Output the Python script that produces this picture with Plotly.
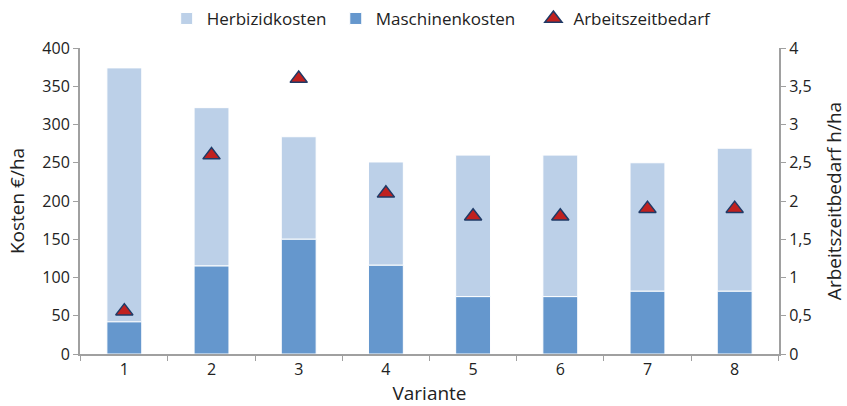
import plotly.graph_objects as go

varianten = ["1", "2", "3", "4", "5", "6", "7", "8"]
maschinenkosten = [42, 115, 150, 116, 75, 75, 82, 82]
herbizidkosten = [332, 207, 134, 135, 185, 185, 168, 187]
arbeitszeit = [0.56, 2.6, 3.6, 2.1, 1.8, 1.8, 1.9, 1.9]

FONT = "Open Sans"
AX = "#a0a0a0"

fig = go.Figure()
fig.add_trace(go.Bar(x=varianten, y=herbizidkosten, name="Herbizidkosten\u00a0",
                     marker=dict(color="#bcd0e8", line=dict(color="white", width=1)),
                     base=maschinenkosten, width=0.4, offsetgroup="a", legendrank=1))
fig.add_trace(go.Bar(x=varianten, y=maschinenkosten, name="Maschinenkosten\u00a0\u00a0\u00a0",
                     marker=dict(color="#6597cd", line=dict(color="white", width=1)),
                     width=0.4, offsetgroup="a", legendrank=2))
fig.add_trace(go.Scatter(x=varianten, y=arbeitszeit, name="Arbeitszeitbedarf", yaxis="y2",
                         mode="markers",
                         marker=dict(symbol="triangle-up", size=15, color="#c0211f",
                                     line=dict(color="#1f3a66", width=1.5)),
                         legendrank=3))

fig.update_layout(
    width=847, height=406,
    margin=dict(l=80, r=68, t=48, b=52, autoexpand=False),
    paper_bgcolor="white", plot_bgcolor="white",
    font=dict(family=FONT, size=16, color="#222"),
    separators=",.",
    barmode="overlay",
    showlegend=True,
    legend=dict(orientation="h", x=0.124, xanchor="left", y=1.095, yanchor="middle",
                font=dict(size=17), itemwidth=30, traceorder="normal"),
    xaxis=dict(type="category", showline=True, linecolor=AX, linewidth=2,
               ticks="outside", tickson="boundaries", tickcolor=AX, ticklen=5,
               title=dict(text="Variante", standoff=11), showgrid=False),
    yaxis=dict(range=[0, 400], dtick=50, showline=True, linecolor=AX, linewidth=2,
               ticks="outside", tickcolor=AX, ticklen=5, showgrid=False, zeroline=False,
               title=dict(text="Kosten €/ha", standoff=13)),
    yaxis2=dict(range=[0, 4], dtick=0.5, overlaying="y", side="right", showline=True,
                linecolor=AX, linewidth=2, ticks="outside", tickcolor=AX, ticklen=5,
                showgrid=False, zeroline=False,
                title=dict(text="Arbeitszeitbedarf h/ha", standoff=17)),
)

fig.write_html("out.html", config={"displayModeBar": False},
               post_script="document.body.style.margin='0';document.body.style.overflow='hidden';")
